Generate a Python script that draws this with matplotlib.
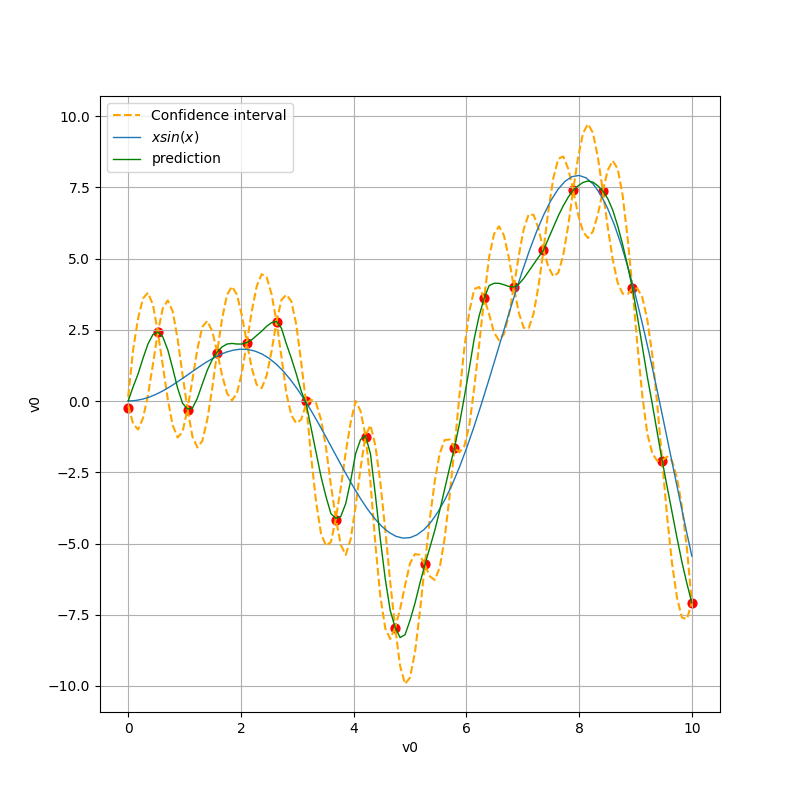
import numpy as np
import matplotlib
matplotlib.use('Agg')
import matplotlib.pyplot as plt

# observed points
x_obs = [0.0, 0.526, 1.053, 1.579, 2.105, 2.632, 3.158, 3.684, 4.211, 4.737,
         5.263, 5.789, 6.316, 6.842, 7.368, 7.895, 8.421, 8.947, 9.474, 10.0]
y_obs = [-0.23, 2.41, -0.30, 1.70, 2.05, 2.76, 0.0, -4.17, -1.28, -7.96,
         -5.71, -1.64, 3.60, 3.99, 5.29, 7.40, 7.37, 3.95, -2.09, -7.08]

# true function, read every 0.125
x_true = np.linspace(0, 10, 81)
y_true = [0.0, 0.016, 0.062, 0.137, 0.240, 0.366, 0.511, 0.672, 0.841, 1.015,
          1.186, 1.349, 1.496, 1.623, 1.722, 1.789, 1.819, 1.807, 1.751, 1.648,
          1.496, 1.297, 1.050, 0.757, 0.423, 0.052, -0.352, -0.781, -1.228, -1.685,
          -2.144, -2.594, -3.027, -3.434, -3.804, -4.128, -4.399, -4.607, -4.747, -4.811,
          -4.795, -4.694, -4.509, -4.238, -3.880, -3.440, -2.925, -2.332, -1.677, -0.965,
          -0.207, 0.584, 1.398, 2.221, 3.037, 3.835, 4.599, 5.315, 5.968, 6.544,
          7.035, 7.426, 7.708, 7.873, 7.915, 7.828, 7.613, 7.266, 6.787, 6.187,
          5.467, 4.638, 3.709, 2.695, 1.612, 0.467, -0.715, -1.915, -3.108, -4.298,
          -5.440]

# prediction and half width of the band, 6 samples per gap
x_pred = np.linspace(0, 10, 115)
y_pred = [0.0, 0.5, 0.95, 1.5, 2.0, 2.33,
          2.42, 2.25, 1.8, 1.15, 0.45, -0.08,
          -0.28, -0.25, 0.1, 0.6, 1.08, 1.45,
          1.72, 1.9, 2.0, 2.02, 2.0, 2.0,
          2.05, 2.15, 2.3, 2.45, 2.62, 2.75,
          2.79, 2.55, 2.0, 1.5, 0.95, 0.35,
          -0.1, -0.95, -1.8, -2.65, -3.35, -3.95,
          -4.12, -4.05, -3.6, -2.8, -1.85, -1.35,
          -1.22, -1.85, -3.3, -4.85, -6.25, -7.35,
          -7.95, -8.3, -8.2, -7.7, -7.1, -6.4,
          -5.75, -5.15, -4.55, -3.85, -3.1, -2.35,
          -1.64, -0.8, 0.15, 1.15, 2.2, 3.0,
          3.6, 4.05, 4.13, 4.13, 4.08, 4.02,
          4.0, 4.1, 4.3, 4.55, 4.8, 5.05,
          5.29, 5.7, 6.1, 6.5, 6.85, 7.15,
          7.40, 7.55, 7.67, 7.72, 7.68, 7.55,
          7.37, 7.1, 6.7, 6.15, 5.5, 4.75,
          3.95, 2.95, 1.9, 0.85, -0.1, -1.1,
          -2.09, -3.0, -3.9, -4.8, -5.65, -6.4,
          -7.08]
half_width = [0.15, 1.3, 1.95, 2.1, 1.8, 1.05,
              0, 1.0, 1.73, 2.0, 1.73, 1.0,
              0, 1.0, 1.73, 2.0, 1.73, 1.0,
              0, 1.0, 1.73, 2.0, 1.73, 1.0,
              0, 1.0, 1.73, 2.0, 1.73, 1.0,
              0, 1.0, 1.73, 2.0, 1.73, 1.0,
              0, 1.0, 1.73, 2.0, 1.73, 1.0,
              0, 1.0, 1.8, 2.05, 1.85, 1.0,
              0, 1.0, 1.73, 2.0, 1.73, 1.0,
              0, 1.0, 1.73, 2.0, 1.73, 1.0,
              0, 1.0, 1.73, 2.0, 1.73, 1.0,
              0, 1.0, 1.73, 2.0, 1.73, 1.0,
              0, 1.0, 1.73, 2.0, 1.73, 1.0,
              0, 1.0, 1.73, 2.0, 1.73, 1.0,
              0, 1.0, 1.73, 2.0, 1.73, 1.0,
              0, 1.0, 1.73, 2.0, 1.73, 1.0,
              0, 1.0, 1.73, 2.0, 1.73, 1.0,
              0, 1.0, 1.73, 2.0, 1.73, 1.0,
              0, 1.05, 1.8, 2.1, 1.95, 1.25,
              0]

y_pred = np.array(y_pred)
half_width = np.array(half_width)
upper = y_pred + half_width
lower = y_pred - half_width

fig = plt.figure(figsize=(8, 8), dpi=100)
ax = fig.add_subplot(111)
ax.scatter(x_obs, y_obs, color='red', s=40)
ax.plot(x_pred, upper, '--', color='orange', linewidth=1.5, label='Confidence interval')
ax.plot(x_pred, lower, '--', color='orange', linewidth=1.5)
ax.plot(x_true, y_true, linewidth=1, label='$x sin(x)$')
ax.plot(x_pred, y_pred, color='green', linewidth=1, label='prediction')
ax.grid(True)
ax.legend(loc='upper left')
ax.set_xlabel('v0')
ax.set_ylabel('v0')
plt.savefig('out.png')
